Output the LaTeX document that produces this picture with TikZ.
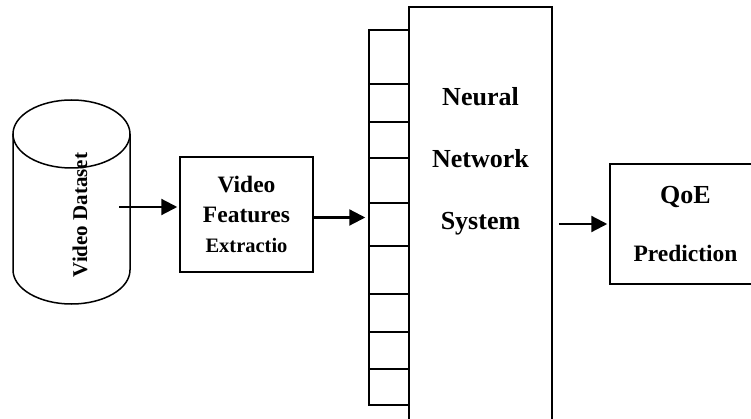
\documentclass[tikz,border=0pt]{standalone}
\usepackage{fontspec}
\setmainfont{Liberation Serif}
\usetikzlibrary{arrows.meta}
\tikzset{
  block/.style={draw, line width=1.5pt, inner sep=0pt, align=center},
  flow/.style={line width=2.2pt, -{Triangle[length=16pt,width=16pt]}},
}
\begin{document}
\begin{tikzpicture}[x=1pt,y=-1pt]
  \clip (0,0) rectangle (751,419);
  \draw[line width=1.5pt] (13,134) -- (13,270) arc (180:0:58.5 and 34) -- (130,134);
  \draw[line width=1.5pt] (71.5,134) ellipse (58.5 and 34);
  \node[rotate=90, font=\fontsize{21}{25}\selectfont\bfseries] (dataset) at (80,215) {Video Dataset};
  \coordinate (dsout) at (119,207);
  \node[block, minimum width=133pt, minimum height=115pt,
    font=\fontsize{23.5}{30}\selectfont\bfseries] (feat) at (246.5,214.5)
    {Video\\Features\\{\fontsize{20.5}{30}\selectfont Extractio}};
  \node[block, minimum width=40pt, minimum height=375pt] (inlayer) at (389,217.5) {};
  \foreach \ty in {84,122,158,203,246,294,332,369}
    \draw[line width=1.5pt] (369,\ty) -- (409,\ty);
  \node[block, minimum width=143pt, minimum height=423pt] (nns) at (480.5,218.5) {};
  \node[align=center, font=\fontsize{26}{62}\selectfont\bfseries] (nnstext) at (480.5,161)
    {Neural\\Network\\System};
  \node[block, minimum width=151pt, minimum height=120pt,
    font=\fontsize{26}{58}\selectfont\bfseries] (qoe) at (685.5,224)
    {QoE\\{\fontsize{23.5}{58}\selectfont Prediction}};
  \draw[flow, shorten >=2pt] (dsout) -- (dsout -| feat.west);
  \draw[flow, shorten >=3pt] (feat.east |- inlayer.west) -- (inlayer.west);
  \draw[flow, shorten <=6pt, shorten >=2pt] (nns.east |- qoe.west) -- (qoe.west);
\end{tikzpicture}
\end{document}
